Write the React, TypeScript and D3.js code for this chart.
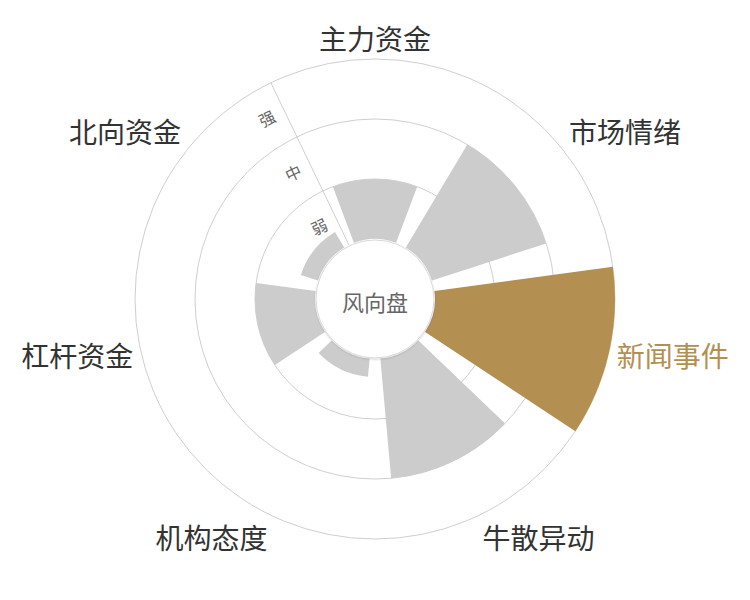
import React from 'react';
import * as d3 from 'd3';

// categories around the dial, clockwise from the top
const categories = ['主力资金', '市场情绪', '新闻事件', '牛散异动', '机构态度', '杠杆资金', '北向资金'];
// strength of each signal (0..3, one unit per level ring)
const strength = [1, 2, 3, 2, 0.3, 1, 0.3];
// radial tick labels, one per ring band
const levels = ['弱', '中', '强'];
const highlight = '新闻事件';

const width = 750;
const height = 600;
const cx = 375;
const cy = 299;
const GOLD = '#b48f52';
const FONT = '"Noto Sans CJK SC", "Noto Sans", sans-serif';

export default function App() {
  const step = (2 * Math.PI) / categories.length;

  const angle = d3.scaleBand<string>()
    .domain(categories)
    .range([-step / 2, 2 * Math.PI - step / 2])
    .paddingInner(0.2)
    .paddingOuter(0.1);

  const radius = d3.scaleLinear()
    .domain([0, levels.length])
    .range([60, 240]);

  const arc = d3.arc<{ a0: number; a1: number; r0: number; r1: number }>()
    .startAngle(d => d.a0)
    .endAngle(d => d.a1)
    .innerRadius(d => d.r0)
    .outerRadius(d => d.r1);

  const mid = (c: string) => (angle(c) as number) + angle.bandwidth() / 2;
  const polar = (a: number, r: number) => [r * Math.sin(a), -r * Math.cos(a)];

  // radius axis sits on the boundary before the first category
  const axisAngle = -step / 2;
  const [ax0, ay0] = polar(axisAngle, radius(0));
  const [ax1, ay1] = polar(axisAngle, radius(levels.length));

  const labelR = radius(levels.length) + 8;
  const fs = 28;

  return (
    <svg width={width} height={height} style={{ position: 'absolute', left: 0, top: 0, background: '#fff' }}>
      <defs>
        <filter id="holeShadow" x="-20%" y="-20%" width="140%" height="140%">
          <feDropShadow dx="0" dy="1" stdDeviation="1.2" floodColor="#000" floodOpacity="0.18" />
        </filter>
      </defs>
      <g transform={`translate(${cx},${cy})`}>
        {/* ring grid */}
        {d3.range(1, levels.length + 1).map(v => (
          <circle key={v} r={radius(v)} fill="none" stroke="#cfcfcf" strokeWidth={1} />
        ))}
        <line x1={ax0} y1={ay0} x2={ax1} y2={ay1} stroke="#cfcfcf" strokeWidth={1} />

        {/* bars */}
        {categories.map((c, i) => (
          <path
            key={c}
            d={arc({
              a0: angle(c) as number,
              a1: (angle(c) as number) + angle.bandwidth(),
              r0: radius(0),
              r1: radius(strength[i]),
            }) || ''}
            fill={c === highlight ? GOLD : '#cccccc'}
          />
        ))}

        {/* centre hole */}
        <circle r={radius(0) - 1} fill="#fff" stroke="#d9d9d9" strokeWidth={1} filter="url(#holeShadow)" />
        <text
          x={0}
          y={2}
          textAnchor="middle"
          dominantBaseline="central"
          fontFamily={FONT}
          fontSize={22}
          fill="#666"
        >风向盘</text>

        {/* level labels along the radius axis */}
        {levels.map((l, i) => {
          const r = radius(i + 0.5);
          const [px, py] = polar(axisAngle, r);
          const off = 19;
          const x = px - off * Math.cos(axisAngle);
          const y = py - off * Math.sin(axisAngle);
          return (
            <text
              key={l}
              transform={`translate(${x},${y}) rotate(${(axisAngle * 180) / Math.PI})`}
              textAnchor="middle"
              dominantBaseline="central"
              fontFamily={FONT}
              fontSize={16}
              fill="#666"
            >{l}</text>
          );
        })}

        {/* category labels */}
        {categories.map(c => {
          const a = mid(c);
          const s = Math.sin(a);
          const k = Math.cos(a);
          const [x, y] = polar(a, labelR);
          const anchor = Math.abs(s) < 0.3 ? 'middle' : s > 0 ? 'start' : 'end';
          const dy = Math.abs(k) < 0.3 ? 1 : -k > 0 ? fs / 2 + 1 : -fs / 2 + 1;
          return (
            <text
              key={c}
              x={x}
              y={y + dy}
              textAnchor={anchor}
              dominantBaseline="central"
              fontFamily={FONT}
              fontSize={fs}
              fill={c === highlight ? GOLD : '#333'}
            >{c}</text>
          );
        })}
      </g>
    </svg>
  );
}
